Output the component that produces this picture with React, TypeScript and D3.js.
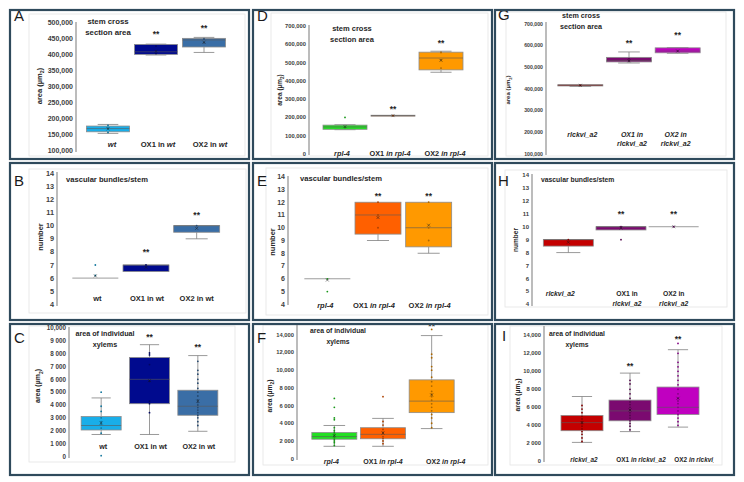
import * as d3 from 'd3'

type Stats = [number, number, number, number, number] // min, q1, median, q3, max

const FONT = "'Liberation Sans', Arial, sans-serif"

// category labels: *...* = italic, | = line break
const catsA = ['*wt*', 'OX1 in *wt*', 'OX2 in *wt*']
const catsB = ['wt', 'OX1 in wt', 'OX2 in wt']
const catsC = ['wt', 'OX1 in wt', 'OX2 in wt']
const catsRpl = ['*rpl-4*', 'OX1 *in rpl-4*', 'OX2 *in rpl-4*']
const catsG = ['*rlckvi_a2*', '*OX1 in|rlckvi_a2*', '*OX2 in|rlckvi_a2*']
const catsH = ['*rlckvi_a2*', 'OX1 in|*rlckvi_a2*', 'OX2 in|*rlckvi_a2*']
const catsI = ['*rlckvi_a2*', 'OX1 *in rlckvi_a2*', 'OX2 *in rlckvi_a2*']

const colorsWt = ['#19aee9', '#000a8e', '#3a6ea6']
const colorsRpl = ['#22e022', '#ff6000', '#ff9900']
const colorsRlc = ['#c40000', '#7b0a70', '#c000c0']

// y ticks
const ticksA = [100000, 150000, 200000, 250000, 300000, 350000, 400000, 450000, 500000]
const ticksD = [0, 100000, 200000, 300000, 400000, 500000, 600000, 700000]
const ticksG = [100000, 200000, 300000, 400000, 500000, 600000, 700000]
const ticksCount = [4, 5, 6, 7, 8, 9, 10, 11, 12, 13, 14]
const ticksC = [0, 1000, 2000, 3000, 4000, 5000, 6000, 7000, 8000, 9000, 10000]
const ticksFI = [0, 2000, 4000, 6000, 8000, 10000, 12000, 14000]

// A: stem cross section area, wt
const statsA: Stats[] = [[155000, 160000, 170000, 178000, 183000], [400000, 402000, 410000, 433000, 434000], [408000, 425000, 447000, 452000, 455000]]
const meansA = [169000, 412000, 440000]
const dotsA = [[158000, 172000, 180000], [405000, 428000], [438000, 450000]]
const starsA = [null, 470000, 488000]

// D: stem cross section area, rpl-4
const statsD: Stats[] = [[133000, 135000, 148000, 158000, 160000], [207000, 207000, 210000, 212000, 212000], [447000, 460000, 525000, 557000, 562000]]
const meansD = [150000, 210000, 512000]
const dotsD = [[200000, 145000], [210000], [470000, 515000, 555000]]
const starsD = [null, 251000, 612000]

// G: stem cross section area, rlckvi_a2
const statsG: Stats[] = [[412000, 414000, 417000, 420000, 420000], [520000, 525000, 532000, 546000, 571000], [565000, 567000, 575000, 590000, 591000]]
const meansG = [417000, 530000, 575000]
const dotsG = [[417000], [530000, 540000], [575000]]
const starsG = [null, 617000, 654000]

// B: vascular bundles/stem, wt
const statsB: Stats[] = [[6, 6, 6, 6, 6], [6.5, 6.5, 7, 7, 7], [9, 9.5, 10, 10, 10]]
const meansB = [6.17, 6.83, 9.8]
const dotsB = [[7, 6.2], [7], [10]]
const starsB = [null, 8.1, 10.9]

// E: vascular bundles/stem, rpl-4
const statsE: Stats[] = [[6, 6, 6, 6, 6], [9, 9.5, 11, 12, 12], [8, 8.5, 10, 12, 12]]
const meansE = [5.9, 10.8, 10.2]
const dotsE = [[5, 6], [12, 11, 10], [12, 10, 9]]
const starsE = [null, 12.6, 12.6]

// H: vascular bundles/stem, rlckvi_a2
const statsH: Stats[] = [[8, 8.5, 9, 9, 9], [9.75, 9.75, 10, 10, 10], [10, 10, 10, 10, 10]]
const meansH = [8.8, 9.9, 10]
const dotsH = [[9], [9, 10], [10]]
const starsH = [null, 11.05, 11.05]

// C: area of individual xylems, wt
const statsC: Stats[] = [[1700, 2050, 2400, 3100, 4550], [1700, 4100, 6000, 7700, 8700], [1950, 3200, 3900, 5150, 7850]]
const meansC = [2600, 5900, 4300]
const dotsC = [
  [5000, 50, 3900, 3500, 3000, 2700, 2500, 2200, 1800],
  [8050, 7900, 7150, 5850, 4300, 4100, 3400],
  [7400, 6700, 6400, 6000, 5700, 5300, 5000, 4700, 4400, 4200, 4000, 3800, 3600, 3400, 3200, 3000, 2700, 2400],
]
const starsC = [null, 9380, 8600]

// F: area of individual xylems, rpl-4
const statsF: Stats[] = [[1400, 2200, 2500, 2950, 3750], [1400, 2250, 2750, 3500, 4550], [3400, 5200, 6500, 8900, 13900]]
const meansF = [2600, 2900, 7200]
const dotsF = [
  [6800, 5800, 4600, 4400, 3500, 3200, 3000, 2800, 2600, 2400, 2200, 2000, 1800, 1500],
  [7000, 4200, 3800, 3300, 3000, 2800, 2500, 2300, 2000, 1700],
  [14600, 11800, 11400, 10400, 10000, 9200, 8700, 8200, 7600, 7300, 7000, 6600, 6200, 5800, 5400, 5000, 4600, 4000, 3500],
]
const starsF = [null, null, 15100]

// I: area of individual xylems, rlckvi_a2
const statsI: Stats[] = [[2100, 3400, 4300, 5100, 7200], [3300, 4500, 5600, 6800, 9800], [3800, 5200, 6000, 8250, 12400]]
const meansI = [4300, 5700, 7000]
const dotsI = [
  [6200, 5800, 5400, 5000, 4700, 4400, 4200, 3900, 3600, 3300, 3000, 2600, 2200],
  [9000, 8600, 8000, 7500, 7000, 6600, 6300, 6000, 5700, 5400, 5100, 4800, 4500, 4200, 3900, 3500],
  [13100, 12000, 11000, 10500, 10000, 9500, 9000, 8500, 8000, 7500, 7000, 6700, 6400, 6000, 5600, 5200, 4800, 4400, 4000],
]
const starsI = [null, 10700, 13700]

const fmtComma = d3.format(',')
const fmtSpace = (v: number) => (v >= 10000 ? fmtComma(v) : fmtComma(v).replace(',', ' '))
const fmtInt = (v: number) => String(v)

interface PanelCfg {
  id: string
  letter: string
  lx: number
  ly: number
  frame: [number, number, number, number]
  inner: [number, number, number, number]
  clipRight?: number
  cats: string[]
  stats: Stats[]
  means: number[]
  dots: number[][]
  stars: (number | null)[]
  colors: string[]
  domain: [number, number]
  yRange: [number, number]
  ticks: number[]
  fmt: (v: number) => string
  axisX: number
  axisY: [number, number]
  band: [number, number]
  boxW: number
  labelY: number
  labelDx: number[]
  catFont: number
  tickFont: number
  title: string[]
  titleX: number
  titleY: number
  titleAnchor: 'start' | 'middle'
  titleFont: number
  yTitle: 'area' | 'number'
  yTitleX: number
  yTitleY: number
  yTitleFont: number
}

const panels: PanelCfg[] = [
  {
    id: 'A', letter: 'A', lx: 14, ly: 21, frame: [10, 10, 249, 159], inner: [29, 14, 245, 156],
    cats: catsA, stats: statsA, means: meansA, dots: dotsA, stars: starsA, colors: colorsWt,
    domain: [100000, 500000], yRange: [151, 23], ticks: ticksA, fmt: fmtComma,
    axisX: 76, axisY: [22, 152], band: [84, 228], boxW: 43,
    labelY: 147, labelDx: [4, 2, 6], catFont: 7.6, tickFont: 7,
    title: ['stem cross', 'section area'], titleX: 108, titleY: 24, titleAnchor: 'middle', titleFont: 7.8,
    yTitle: 'area', yTitleX: 39, yTitleY: 86, yTitleFont: 7.5,
  },
  {
    id: 'D', letter: 'D', lx: 257, ly: 21, frame: [253, 10, 492, 159], inner: [271, 13, 488, 156],
    cats: catsRpl, stats: statsD, means: meansD, dots: dotsD, stars: starsD, colors: colorsRpl,
    domain: [0, 700000], yRange: [154, 26], ticks: ticksD, fmt: fmtComma,
    axisX: 309, axisY: [25, 155], band: [321, 465], boxW: 44,
    labelY: 156, labelDx: [-3, -3, 4], catFont: 7.3, tickFont: 5.8,
    title: ['stem cross', 'section area'], titleX: 352, titleY: 31, titleAnchor: 'middle', titleFont: 7.5,
    yTitle: 'area', yTitleX: 280, yTitleY: 90, yTitleFont: 6.5,
  },
  {
    id: 'G', letter: 'G', lx: 498, ly: 20, frame: [495, 10, 734, 159], inner: [506, 12, 726, 156],
    cats: catsG, stats: statsG, means: meansG, dots: dotsG, stars: starsG, colors: colorsRlc,
    domain: [100000, 700000], yRange: [154, 24], ticks: ticksG, fmt: fmtComma,
    axisX: 546, axisY: [22, 155], band: [556, 702], boxW: 45,
    labelY: 136.5, labelDx: [2, 3, -2], catFont: 7, tickFont: 5.2,
    title: ['stem cross', 'section area'], titleX: 581, titleY: 18, titleAnchor: 'middle', titleFont: 7.2,
    yTitle: 'area', yTitleX: 508, yTitleY: 90, yTitleFont: 6,
  },
  {
    id: 'B', letter: 'B', lx: 14, ly: 186, frame: [10, 163, 249, 320], inner: [29, 169, 246, 313],
    cats: catsB, stats: statsB, means: meansB, dots: dotsB, stars: starsB, colors: colorsWt,
    domain: [4, 14], yRange: [304.3, 173.3], ticks: ticksCount, fmt: fmtInt,
    axisX: 57, axisY: [172, 306], band: [70, 222], boxW: 46,
    labelY: 300.5, labelDx: [2, 1, 0], catFont: 7.5, tickFont: 7.3,
    title: ['vascular bundles/stem'], titleX: 66, titleY: 182, titleAnchor: 'start', titleFont: 7.6,
    yTitle: 'number', yTitleX: 40, yTitleY: 237, yTitleFont: 7.5,
  },
  {
    id: 'E', letter: 'E', lx: 257, ly: 186, frame: [253, 163, 492, 320], inner: [266, 168, 488, 315],
    cats: catsRpl, stats: statsE, means: meansE, dots: dotsE, stars: starsE, colors: colorsRpl,
    domain: [4, 14], yRange: [304.3, 176.7], ticks: ticksCount, fmt: fmtInt,
    axisX: 288, axisY: [176, 305], band: [302, 454], boxW: 46,
    labelY: 308, labelDx: [-2, -4, 1], catFont: 7.5, tickFont: 7,
    title: ['vascular bundles/stem'], titleX: 300, titleY: 181, titleAnchor: 'start', titleFont: 7.6,
    yTitle: 'number', yTitleX: 272, yTitleY: 242, yTitleFont: 7.5,
  },
  {
    id: 'H', letter: 'H', lx: 498, ly: 186, frame: [495, 163, 734, 320], inner: [505, 170, 727, 307],
    cats: catsH, stats: statsH, means: meansH, dots: dotsH, stars: starsH, colors: colorsRlc,
    domain: [4, 14], yRange: [304.3, 175], ticks: ticksCount, fmt: fmtInt,
    axisX: 532, axisY: [174, 306], band: [542, 700], boxW: 50,
    labelY: 296, labelDx: [-8, 6, 0], catFont: 6.8, tickFont: 6,
    title: ['vascular bundles/stem'], titleX: 541, titleY: 182, titleAnchor: 'start', titleFont: 6.8,
    yTitle: 'number', yTitleX: 516, yTitleY: 240, yTitleFont: 6.5,
  },
  {
    id: 'C', letter: 'C', lx: 14, ly: 343, frame: [10, 324, 249, 475], inner: [29, 326, 235, 462],
    cats: catsC, stats: statsC, means: meansC, dots: dotsC, stars: starsC, colors: colorsWt,
    domain: [0, 10000], yRange: [456.3, 328], ticks: ticksC, fmt: fmtSpace,
    axisX: 69, axisY: [327, 458], band: [77, 222], boxW: 40,
    labelY: 448.5, labelDx: [2, 1, 1], catFont: 7.2, tickFont: 6.3,
    title: ['area of individual', 'xylems'], titleX: 105, titleY: 336, titleAnchor: 'middle', titleFont: 7.2,
    yTitle: 'area', yTitleX: 38, yTitleY: 386, yTitleFont: 7,
  },
  {
    id: 'F', letter: 'F', lx: 257, ly: 343, frame: [253, 324, 492, 475], inner: [263, 325, 488, 465],
    cats: catsRpl, stats: statsF, means: meansF, dots: dotsF, stars: starsF, colors: colorsRpl,
    domain: [0, 14000], yRange: [458.7, 334.7], ticks: ticksFI, fmt: fmtSpace,
    axisX: 297, axisY: [325, 460], band: [310, 456], boxW: 45,
    labelY: 463.5, labelDx: [-3, 0, 14], catFont: 7, tickFont: 5.8,
    title: ['area of individual', 'xylems'], titleX: 338, titleY: 333, titleAnchor: 'middle', titleFont: 6.8,
    yTitle: 'area', yTitleX: 270, yTitleY: 396, yTitleFont: 6.8,
  },
  {
    id: 'I', letter: 'I', lx: 502, ly: 341, frame: [495, 324, 734, 475], inner: [510, 326, 722, 465], clipRight: 714,
    cats: catsI, stats: statsI, means: meansI, dots: dotsI, stars: starsI, colors: colorsRlc,
    domain: [0, 14000], yRange: [461.3, 335.3], ticks: ticksFI, fmt: fmtSpace,
    axisX: 544, axisY: [326, 462], band: [558, 702], boxW: 42,
    labelY: 461.5, labelDx: [2, 11, 21], catFont: 6.4, tickFont: 5.8,
    title: ['area of individual', 'xylems'], titleX: 577, titleY: 336, titleAnchor: 'middle', titleFont: 6.8,
    yTitle: 'area', yTitleX: 518, yTitleY: 395, yTitleFont: 6.8,
  },
]

function parseRich(s: string) {
  const lines: { t: string; it: boolean }[][] = [[]]
  let it = false
  let buf = ''
  const flush = () => {
    if (buf) lines[lines.length - 1].push({ t: buf, it })
    buf = ''
  }
  for (const ch of s) {
    if (ch === '*') { flush(); it = !it }
    else if (ch === '|') { flush(); lines.push([]) }
    else buf += ch
  }
  flush()
  return lines
}

function Panel({ c }: { c: PanelCfg }) {
  const y = d3.scaleLinear().domain(c.domain).range(c.yRange)
  const x = d3.scaleBand<string>().domain(c.cats).range(c.band)
  const cx = (cat: string) => (x(cat) ?? 0) + x.bandwidth() / 2
  const [fx0, fy0, fx1, fy1] = c.frame
  const [ix0, iy0, ix1, iy1] = c.inner
  const clipId = `clip-${c.id}`
  const clipR = c.clipRight ?? ix1
  const cap = c.boxW * 0.24

  return (
    <g>
      <defs>
        <clipPath id={clipId}>
          <rect x={ix0} y={fy0} width={clipR - ix0} height={fy1 - fy0} />
        </clipPath>
      </defs>
      <rect x={fx0} y={fy0} width={fx1 - fx0} height={fy1 - fy0} fill="#fff" />
      <rect x={ix0} y={iy0} width={ix1 - ix0} height={iy1 - iy0} fill="none" stroke="#e4e4e4" strokeWidth={0.8} />

      <g clipPath={`url(#${clipId})`}>
        {/* y axis */}
        <line x1={c.axisX} x2={c.axisX} y1={c.axisY[0]} y2={c.axisY[1]} stroke="#a6a6a6" strokeWidth={1.5} />
        {c.ticks.map((t) => (
          <text key={t} x={c.axisX - 3} y={y(t)} dy="0.35em" textAnchor="end" fontSize={c.tickFont}
            fontWeight="bold" fill="#404040" fontFamily={FONT}>{c.fmt(t)}</text>
        ))}

        {/* boxes */}
        {c.cats.map((cat, i) => {
          const [mn, q1, md, q3, mx] = c.stats[i]
          const xc = cx(cat)
          const col = c.colors[i]
          const dotCol = d3.color(col)!.darker(1.1).formatHex()
          return (
            <g key={cat}>
              <line x1={xc} x2={xc} y1={y(q3)} y2={y(mx)} stroke="#808080" strokeWidth={0.8} />
              <line x1={xc} x2={xc} y1={y(q1)} y2={y(mn)} stroke="#808080" strokeWidth={0.8} />
              {mx > q3 && <line x1={xc - cap} x2={xc + cap} y1={y(mx)} y2={y(mx)} stroke="#808080" strokeWidth={0.8} />}
              {mn < q1 && <line x1={xc - cap} x2={xc + cap} y1={y(mn)} y2={y(mn)} stroke="#808080" strokeWidth={0.8} />}
              <rect x={xc - c.boxW / 2} y={y(q3)} width={c.boxW} height={Math.max(0, y(q1) - y(q3))}
                fill={col} stroke="#8c8c8c" strokeWidth={0.8} />
              <line x1={xc - c.boxW / 2} x2={xc + c.boxW / 2} y1={y(md)} y2={y(md)}
                stroke="#595959" strokeOpacity={0.75} strokeWidth={0.8} />
              {c.dots[i].map((v, k) => (
                <circle key={k} cx={xc} cy={y(v)} r={0.9} fill={dotCol} />
              ))}
              <g stroke="#1a1a1a" strokeWidth={0.6} strokeOpacity={0.8}>
                <line x1={xc - 1.5} x2={xc + 1.5} y1={y(c.means[i]) - 1.5} y2={y(c.means[i]) + 1.5} />
                <line x1={xc - 1.5} x2={xc + 1.5} y1={y(c.means[i]) + 1.5} y2={y(c.means[i]) - 1.5} />
              </g>
              {c.stars[i] != null && (
                <text x={xc} y={y(c.stars[i] as number) + 4} textAnchor="middle" fontSize={8.5}
                  fontWeight="bold" fill="#262626" fontFamily={FONT}>**</text>
              )}
              <text fontSize={c.catFont} fontWeight="bold" fill="#262626" fontFamily={FONT}>
                {parseRich(cat).map((ln, li) => (
                  <tspan key={li} x={xc + c.labelDx[i]} y={c.labelY + li * 9.5} textAnchor="middle">
                    {ln.map((s, si) => (
                      <tspan key={si} fontStyle={s.it ? 'italic' : 'normal'}>{s.t}</tspan>
                    ))}
                  </tspan>
                ))}
              </text>
            </g>
          )
        })}

        {/* chart title */}
        <text fontSize={c.titleFont} fontWeight="bold" fill="#262626" fontFamily={FONT}>
          {c.title.map((t, i) => (
            <tspan key={i} x={c.titleX} y={c.titleY + i * 11} textAnchor={c.titleAnchor}>{t}</tspan>
          ))}
        </text>
      </g>

      {/* y title */}
      <text transform={`translate(${c.yTitleX},${c.yTitleY}) rotate(-90)`} dy="0.35em" textAnchor="middle"
        fontSize={c.yTitleFont} fontWeight="bold" fill="#262626" fontFamily={FONT}>
        {c.yTitle === 'area' ? (
          <>
            area (µm<tspan fontSize={c.yTitleFont * 0.7} dy={c.yTitleFont * 0.3}>2</tspan>
            <tspan dy={-c.yTitleFont * 0.3}>)</tspan>
          </>
        ) : 'number'}
      </text>

      {/* panel letter */}
      <text x={c.lx} y={c.ly} fontSize={15} fill="#1a1a1a" fontFamily={FONT}>{c.letter}</text>

      <rect x={fx0} y={fy0} width={fx1 - fx0} height={fy1 - fy0} fill="none" stroke="#2f4a5c" strokeWidth={2.2} />
    </g>
  )
}

export default function App() {
  return (
    <svg width={744} height={482} viewBox="0 0 744 482"
      style={{ position: 'absolute', left: 0, top: 0, display: 'block', background: '#fff' }}>
      {panels.map((p) => (
        <Panel key={p.id} c={p} />
      ))}
    </svg>
  )
}
